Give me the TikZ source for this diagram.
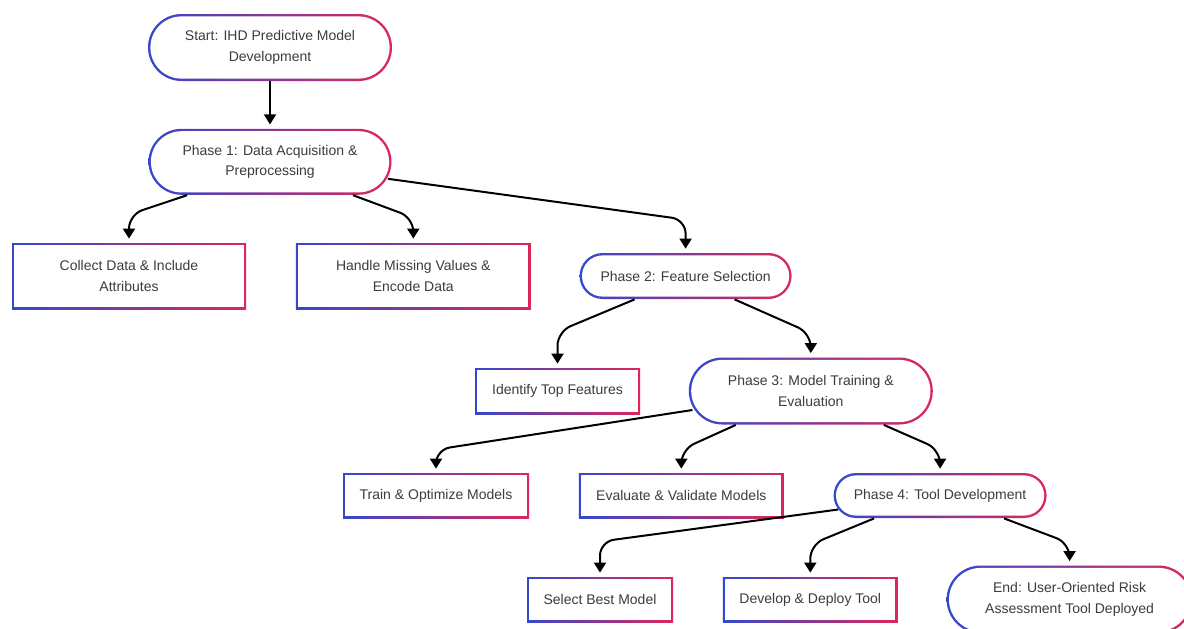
\documentclass[tikz,border=0pt]{standalone}
\usepackage{fontspec}
\setmainfont{Liberation Sans}
\usetikzlibrary{arrows.meta,positioning}
\definecolor{gblue}{RGB}{52,72,206}
\definecolor{gred}{RGB}{222,38,88}
\definecolor{txtgray}{RGB}{60,60,60}
\tikzset{>={Triangle[length=5pt,width=6pt]}}

\begin{document}
\begin{tikzpicture}[x=0.5pt, y=-0.5pt]
	\tikzset{gline/.style={left color=gblue, right color=gred, text=txtgray, align=center,
			inner sep=0pt, font=\fontsize{7}{10.3}\selectfont},
		box/.style={gline, rectangle, minimum height=22.5pt,
			path picture={\fill[white] ([shift={(1.2pt,1.2pt)}]path picture bounding box.south west)
				rectangle ([shift={(-1.2pt,-1.2pt)}]path picture bounding box.north east);}},
		pill/.style={gline, rectangle, rounded corners=#1, minimum height=2*#1,
			path picture={\fill[white, rounded corners=#1-1.2pt] ([shift={(1.2pt,1.2pt)}]path picture bounding box.south west)
				rectangle ([shift={(-1.2pt,-1.2pt)}]path picture bounding box.north east);}},
		flow/.style={->, line width=1pt, rounded corners=7pt, shorten >=2pt},
	}
	\useasboundingbox (0,0) rectangle (1184,628);
	
	\node [pill=16.75pt, minimum width=122pt] (start) at (270,47.5) {Start: IHD Predictive Model\\Development};
	\node [pill=16.5pt, minimum width=121.5pt, below = 23.5pt of start] (p1) {Phase 1: Data Acquisition \&\\Preprocessing};
	\node [box, minimum width=117pt, minimum height=33pt] (collect) at (129,276) {Collect Data \& Include\\Attributes};
	\node [box, minimum width=117.5pt, minimum height=33pt, right = 24.5pt of collect] (handle) {Handle Missing Values \&\\Encode Data};
	\node [pill=11.5pt, minimum width=106pt, right = 24pt of handle] (p2) {Phase 2: Feature Selection};
	\node [box, minimum width=82.5pt, minimum height=23pt] (identify) at (557.5,391) {Identify Top Features};
	\node [pill=16.75pt, minimum width=122pt, right = 24pt of identify] (p3) {Phase 3: Model Training \&\\Evaluation};
	\node [box, minimum width=93pt] (train) at (436,495.5) {Train \& Optimize Models};
	\node [box, minimum width=102.5pt, right = 24.5pt of train] (evaluate) {Evaluate \& Validate Models};
	\node [pill=11.25pt, minimum width=106.5pt, right = 24.5pt of evaluate] (p4) {Phase 4: Tool Development};
	\node [box, minimum width=73pt] (select) at (600,599.5) {Select Best Model};
	\node [box, minimum width=87.5pt, right = 24.5pt of select] (develop) {Develop \& Deploy Tool};
	\node [pill=17pt, minimum width=123pt, right = 24pt of develop] (finish) {End: User-Oriented Risk\\Assessment Tool Deployed};
	
	\draw[flow] (start) -- (p1);
	\draw[flow] ([shift={(-83,0)}]p1.south) -- ([shift={(0,-28)}]collect.north) -- (collect);
	\draw[flow] ([shift={(83,0)}]p1.south) -- ([shift={(0,-25)}]handle.north) -- (handle);
	\draw[flow] ([shift={(-4,17)}]p1.east) -- ([shift={(0,-33)}]p2.north) -- (p2);
	\draw[flow] ([shift={(-51,0)}]p2.south) -- ([shift={(0,-36)}]identify.north) -- (identify);
	\draw[flow] ([shift={(49,0)}]p2.south) -- ([shift={(0,-24)}]p3.north) -- (p3);
	\draw[flow] ([shift={(4,19)}]p3.west) -- ([shift={(0,-23)}]train.north) -- (train);
	\draw[flow] ([shift={(-75,0)}]p3.south) -- ([shift={(0,-23)}]evaluate.north) -- (evaluate);
	\draw[flow] ([shift={(73,0)}]p3.south) -- ([shift={(0,-23)}]p4.north) -- (p4);
	\draw[flow] ([shift={(5,14)}]p4.west) -- ([shift={(0,-35)}]select.north) -- (select);
	\draw[flow] ([shift={(-66,0)}]p4.south) -- ([shift={(0,-32)}]develop.north) -- (develop);
	\draw[flow] ([shift={(64,0)}]p4.south) -- ([shift={(0,-22)}]finish.north) -- (finish);
\end{tikzpicture}
\end{document}
